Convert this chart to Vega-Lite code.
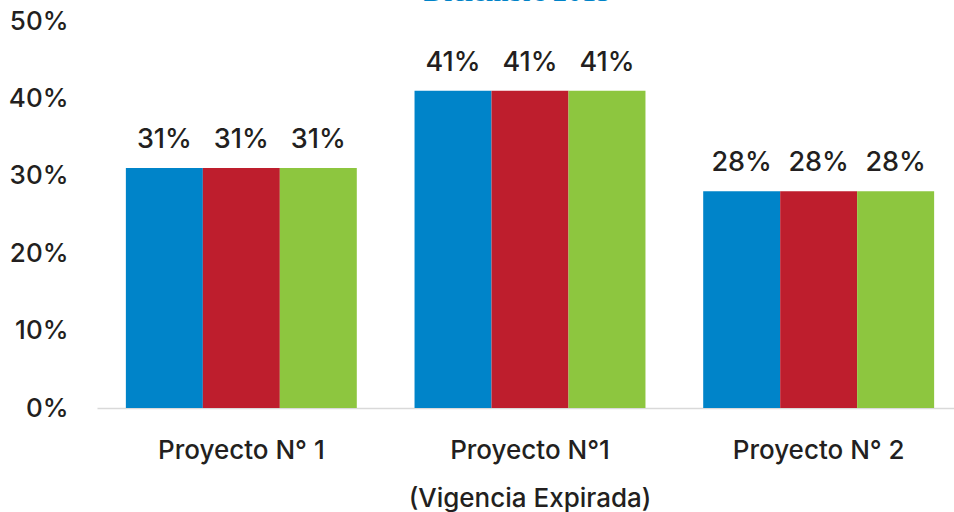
{
  "$schema": "https://vega.github.io/schema/vega-lite/v6.json",
  "autosize": "none",
  "padding": {"left": 97, "top": 21, "right": 0, "bottom": 104},
  "width": 866,
  "height": 387,
  "background": "white",
  "title": {
    "text": "Diciembre 2015",
    "font": "Liberation Serif",
    "fontSize": 29,
    "fontWeight": "normal",
    "color": "#0083c8",
    "anchor": "middle",
    "baseline": "alphabetic",
    "offset": -22,
    "dx": -13
  },
  "config": {"view": {"stroke": null}},
  "data": {
    "values": [
      {"proyecto": "Proyecto N° 1", "serie": "A", "valor": 0.31},
      {"proyecto": "Proyecto N° 1", "serie": "B", "valor": 0.31},
      {"proyecto": "Proyecto N° 1", "serie": "C", "valor": 0.31},
      {"proyecto": "Proyecto N°1", "serie": "A", "valor": 0.41},
      {"proyecto": "Proyecto N°1", "serie": "B", "valor": 0.41},
      {"proyecto": "Proyecto N°1", "serie": "C", "valor": 0.41},
      {"proyecto": "Proyecto N° 2", "serie": "A", "valor": 0.28},
      {"proyecto": "Proyecto N° 2", "serie": "B", "valor": 0.28},
      {"proyecto": "Proyecto N° 2", "serie": "C", "valor": 0.28}
    ]
  },
  "encoding": {
    "x": {
      "field": "proyecto",
      "type": "nominal",
      "sort": ["Proyecto N° 1", "Proyecto N°1", "Proyecto N° 2"],
      "scale": {"paddingInner": 0.2, "paddingOuter": 0.1},
      "axis": {
        "title": null,
        "labelAngle": 0,
        "labelFont": "Inter",
        "labelFontWeight": 500,
        "labelFontSize": 26,
        "labelColor": "#231f20",
        "labelPadding": 29,
        "labelBaseline": "top",
        "labelLineHeight": 48,
        "labelLimit": 0,
        "labelExpr": "datum.label == 'Proyecto N°1' ? ['Proyecto N°1', '(Vigencia Expirada)'] : datum.label",
        "ticks": false,
        "domainColor": "#d9d9d9",
        "domainWidth": 1.5
      }
    },
    "xOffset": {"field": "serie", "type": "nominal", "scale": {"paddingInner": 0, "paddingOuter": 0}},
    "y": {
      "field": "valor",
      "type": "quantitative",
      "scale": {"domain": [0, 0.5], "nice": false},
      "axis": {
        "title": null,
        "format": ".0%",
        "values": [0, 0.1, 0.2, 0.3, 0.4, 0.5],
        "labelFont": "Inter",
        "labelFontWeight": 500,
        "labelFontSize": 26,
        "labelColor": "#231f20",
        "labelPadding": 29,
        "ticks": false,
        "domain": false,
        "grid": false
      }
    }
  },
  "layer": [
    {
      "mark": {"type": "bar"},
      "encoding": {
        "color": {
          "field": "serie",
          "type": "nominal",
          "scale": {"domain": ["A", "B", "C"], "range": ["#0084c9", "#be1e2d", "#8dc63f"]},
          "legend": null
        }
      }
    },
    {
      "mark": {"type": "text", "baseline": "bottom", "dy": -14, "font": "Inter", "fontWeight": 500, "fontSize": 27, "color": "#231f20"},
      "encoding": {
        "text": {"field": "valor", "type": "quantitative", "format": ".0%"}
      }
    }
  ]
}
